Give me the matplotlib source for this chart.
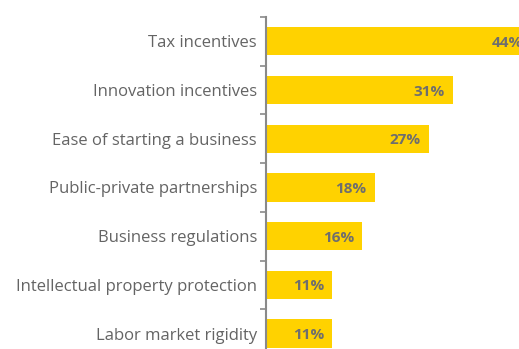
import matplotlib
matplotlib.use("Agg")
import matplotlib.pyplot as plt

categories = [
    "Tax incentives",
    "Innovation incentives",
    "Ease of starting a business",
    "Public-private partnerships",
    "Business regulations",
    "Intellectual property protection",
    "Labor market rigidity",
]
values = [44, 31, 27, 18, 16, 11, 11]

W, H = 519, 349
fig = plt.figure(figsize=(W / 100, H / 100), dpi=100)

# axes geometry in pixels
x0 = 266
px_per_pct = 6.03
xmax = 50
top = 17
band = 48.7
n = len(categories)
ax_h = band * n
ax = fig.add_axes([x0 / W, (H - top - ax_h) / H, xmax * px_per_pct / W, ax_h / H])

ypos = list(range(n))
ax.barh(ypos, values, height=0.58, color="#FFD200", zorder=2)
ax.set_xlim(0, xmax)
ax.set_ylim(n - 0.5, -0.5)

for y, v in zip(ypos, values):
    ax.text(v - 1.4, y + 0.03, f"{v}%", ha="right", va="center",
            fontsize=11, fontweight="bold", color="#6e6e6e",
            family="Open Sans", zorder=3)

ax.set_yticks(ypos)
ax.set_yticklabels(categories, fontsize=12, color="#646464", family="Open Sans")
ax.tick_params(axis="y", length=0, pad=6.5)
# boundary ticks between categories
ax.set_yticks([i - 0.5 for i in range(n + 1)], minor=True)
ax.tick_params(axis="y", which="minor", length=4, width=1.2, color="#8a8a8a", direction="out")
ax.set_xticks([])

for s in ("top", "right", "bottom"):
    ax.spines[s].set_visible(False)
ax.spines["left"].set_color("#8a8a8a")
ax.spines["left"].set_linewidth(1.5)

fig.savefig("out.png", dpi=100)
